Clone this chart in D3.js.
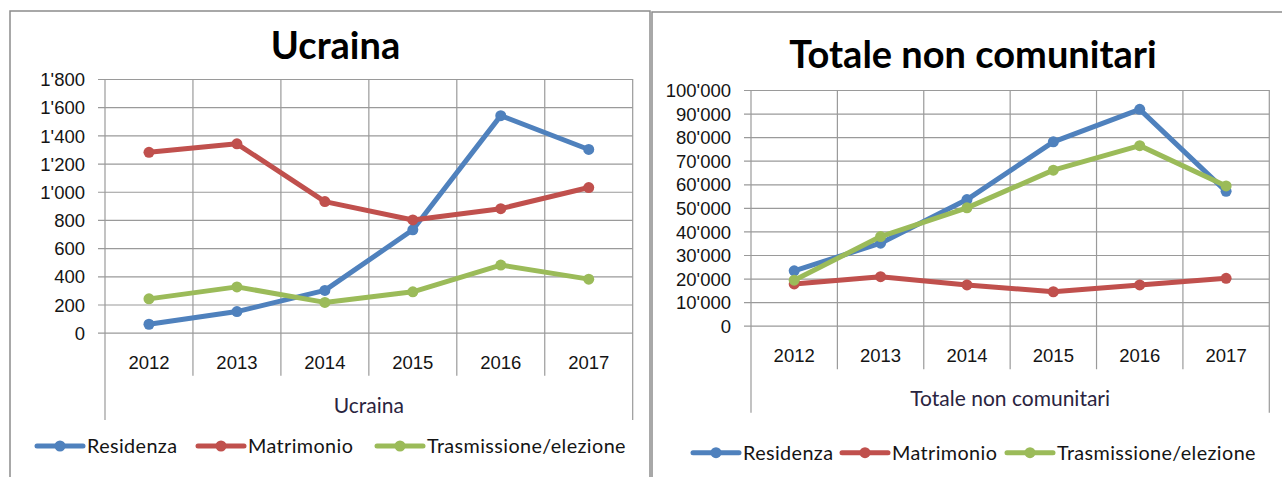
<!DOCTYPE html>
<html><head><meta charset="utf-8">
<script src="https://cdn.jsdelivr.net/npm/d3@7"></script>
<style>
html,body{margin:0;padding:0;background:#fff;}
svg{display:block;font-family:Lato,"Open Sans",sans-serif;}
</style></head>
<body><svg id="c" width="1282" height="477"></svg>
<script>
// ---------- DATA ----------
const years = ["2012","2013","2014","2015","2016","2017"];
const seriesNames = ["Residenza","Matrimonio","Trasmissione/elezione"];

const ucrainaResidenza = [60, 150, 300, 730, 1540, 1300];
const ucrainaMatrimonio = [1280, 1340, 930, 800, 880, 1030];
const ucrainaTrasmissione = [240, 325, 215, 290, 480, 380];
const ucrainaTicks = [0,200,400,600,800,1000,1200,1400,1600,1800];

const totaleResidenza = [23300, 35000, 53500, 78000, 91800, 57000];
const totaleMatrimonio = [17700, 20800, 17300, 14400, 17300, 20100];
const totaleTrasmissione = [19300, 37800, 50000, 66000, 76400, 59300];
const totaleTicks = [0,10000,20000,30000,40000,50000,60000,70000,80000,90000,100000];

// ---------- STYLE ----------
const colors = ["#4F81BD","#C0504D","#9BBB59"];
const gridColor = "#9a9a9a";
const textColor = "#141414";
const fmt = d3.formatLocale({decimal:".", thousands:"'", grouping:[3], currency:["",""]}).format(",");

const svg = d3.select("#c");

function drawChart(cfg, series) {
  const g = svg.append("g");
  g.append("rect").attr("x", cfg.box[0]).attr("y", cfg.box[1])
    .attr("width", cfg.box[2]).attr("height", cfg.box[3])
    .attr("fill", "#fff").attr("stroke", "#8c8c8c").attr("stroke-width", 1.5);

  const x = d3.scaleBand().domain(years).range([cfg.x0, cfg.x1]);
  const y = d3.scaleLinear().domain([0, cfg.ticks[cfg.ticks.length-1]]).range([cfg.yBottom, cfg.yTop]);

  const ya = g.append("g").attr("transform", `translate(${cfg.x0},0)`)
    .call(d3.axisLeft(y).tickValues(cfg.ticks).tickFormat(fmt)
      .tickSizeInner(-(cfg.x1 - cfg.x0)).tickSizeOuter(0).tickPadding(20));
  ya.select(".domain").remove();
  ya.selectAll(".tick line").attr("x1", -7).attr("stroke", gridColor).attr("stroke-width", 1.2);
  ya.selectAll(".tick text").attr("fill", textColor).attr("font-size", cfg.tickFont)
    .attr("x", -(cfg.x0 - cfg.labelRight)).attr("dy", "0.36em");

  const bounds = years.map(d => x(d)).concat([cfg.x1]);
  g.selectAll(".vg").data(bounds).enter().append("line")
    .attr("x1", d => d).attr("x2", d => d)
    .attr("y1", cfg.yTop)
    .attr("y2", (d, i) => (i === 0 || i === bounds.length - 1) ? cfg.yBottom + cfg.outerExt : cfg.yBottom + cfg.innerExt)
    .attr("stroke", gridColor).attr("stroke-width", 1.2);

  const xa = g.append("g").attr("transform", `translate(0,${cfg.yBottom})`)
    .call(d3.axisBottom(x).tickSize(0).tickPadding(0));
  xa.select(".domain").remove();
  xa.selectAll(".tick text").attr("fill", textColor).attr("font-size", cfg.tickFont)
    .attr("y", 30).attr("dy", "0.36em");

  g.append("text").attr("x", (cfg.x0 + cfg.x1) / 2).attr("y", cfg.yBottom + 73)
    .attr("dy", "0.36em").attr("text-anchor", "middle")
    .attr("font-size", cfg.groupFont).attr("fill", "#2a2440").text(cfg.groupLabel);

  g.append("text").attr("x", cfg.titleX).attr("y", cfg.titleY)
    .attr("text-anchor", "middle").attr("font-weight", "bold")
    .attr("font-size", cfg.titleFont).attr("fill", "#000").text(cfg.title);

  const line = d3.line().x((d, i) => x(years[i]) + x.bandwidth() / 2).y(d => y(d));
  series.forEach((vals, si) => {
    g.append("path").datum(vals).attr("d", line)
      .attr("fill", "none").attr("stroke", colors[si]).attr("stroke-width", 5)
      .attr("stroke-linejoin", "round").attr("stroke-linecap", "round");
    g.selectAll(null).data(vals).enter().append("circle")
      .attr("cx", (d, i) => x(years[i]) + x.bandwidth() / 2)
      .attr("cy", d => y(d)).attr("r", 5.5).attr("fill", colors[si]);
  });

  seriesNames.forEach((name, si) => {
    const lx = cfg.legendX[si];
    g.append("line").attr("x1", lx).attr("x2", lx + 46)
      .attr("y1", cfg.legendY).attr("y2", cfg.legendY)
      .attr("stroke", colors[si]).attr("stroke-width", 5).attr("stroke-linecap", "round");
    g.append("circle").attr("cx", lx + 23).attr("cy", cfg.legendY).attr("r", 5.5).attr("fill", colors[si]);
    g.append("text").attr("x", lx + 50).attr("y", cfg.legendY).attr("dy", "0.36em")
      .attr("font-size", cfg.legendFont).attr("letter-spacing", "0.4px")
      .attr("fill", textColor).text(name);
  });
}

drawChart({
  box: [10, 11, 640, 520],
  x0: 105, x1: 632.7, yTop: 79, yBottom: 332.7,
  ticks: ucrainaTicks, labelRight: 85,
  innerExt: 43, outerExt: 87.3,
  title: "Ucraina", titleX: 335.5, titleY: 58.5, titleFont: 38,
  groupLabel: "Ucraina", groupFont: 21,
  tickFont: 18.5, legendFont: 19.8,
  legendY: 446, legendX: [37, 198, 377]
}, [ucrainaResidenza, ucrainaMatrimonio, ucrainaTrasmissione]);

drawChart({
  box: [652, 12, 700, 520],
  x0: 751, x1: 1269.3, yTop: 90, yBottom: 325.7,
  ticks: totaleTicks, labelRight: 731,
  innerExt: 43.6, outerExt: 87,
  title: "Totale non comunitari", titleX: 973, titleY: 67.5, titleFont: 38,
  groupLabel: "Totale non comunitari", groupFont: 21,
  tickFont: 18.5, legendFont: 19.8,
  legendY: 452.7, legendX: [693, 842, 1007]
}, [totaleResidenza, totaleMatrimonio, totaleTrasmissione]);
</script>
</body></html>
